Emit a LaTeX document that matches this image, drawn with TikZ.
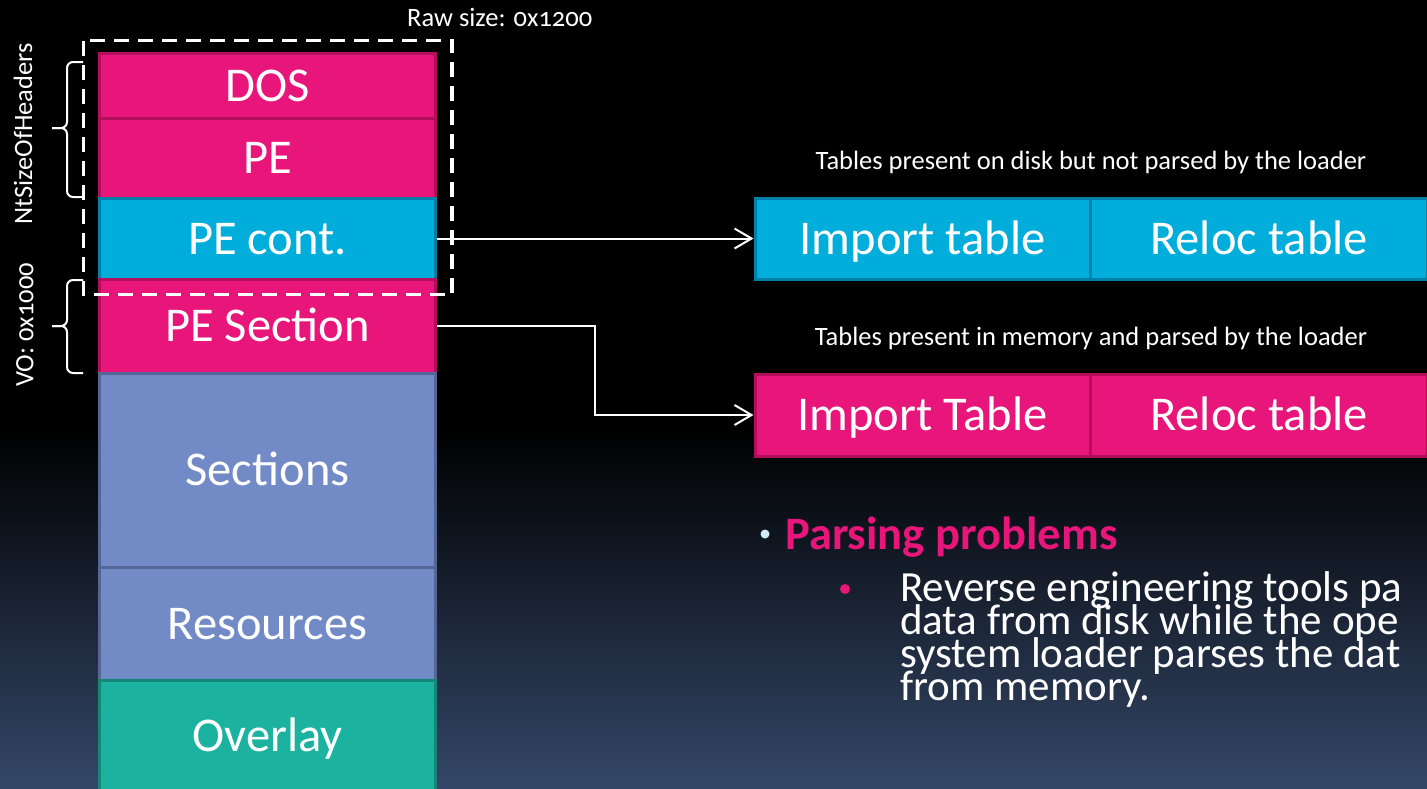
\documentclass[tikz,border=0pt]{standalone}
\usepackage{fontspec}
\setmainfont{Carlito}
\newfontfamily\oldnum[Numbers=OldStyle]{Carlito}
\usetikzlibrary{arrows.meta}
\definecolor{pinkF}{RGB}{232,22,123}
\definecolor{pinkD}{RGB}{178,14,92}
\definecolor{cyanF}{RGB}{0,173,219}
\definecolor{cyanD}{RGB}{0,128,168}
\definecolor{periF}{RGB}{114,138,198}
\definecolor{periD}{RGB}{84,102,150}
\definecolor{tealF}{RGB}{27,179,159}
\definecolor{tealD}{RGB}{20,135,118}
\definecolor{bgB}{RGB}{52,71,104}
\definecolor{bulB}{RGB}{210,235,250}
\tikzset{
  blk/.style={draw, line width=3pt, inner sep=0pt, minimum width=336pt, text=white,
    font=\fontsize{48.5}{50}\selectfont, text height=31pt, text depth=0pt},
  rblk/.style={blk, minimum width=335pt},
  small/.style={text=white, inner sep=0pt, font=\fontsize{26.5}{28}\selectfont},
  conn/.style={draw=white, line width=2pt, -{Straight Barb[length=17pt,width=20pt]}},
  brc/.style={draw=white, line width=2pt, rounded corners=6pt},
  dashrect/.style={draw=white, line width=3.5pt, dash pattern=on 15pt off 9pt},
  bodytxt/.style={text=white, inner sep=0pt, anchor=base west, text height=22pt, text depth=6pt,
    font=\fontsize{43}{33}\selectfont}
}
\begin{document}
\begin{tikzpicture}[x=1pt,y=-1pt]
\useasboundingbox (0,0) rectangle (1427,788);
\clip (0,0) rectangle (1427,788);
% background
\fill[black] (0,0) rectangle (1427,788);
\shade[top color=black, bottom color=bgB] (0,430) rectangle (1427,788);

% left column
\node[blk, fill=pinkF, draw=pinkD, minimum height=65pt] (dos) at (267.5,85.5) {DOS};
\node[blk, fill=pinkF, draw=pinkD, minimum height=80pt] (pe) at (267.5,158) {PE};
\node[blk, fill=cyanF, draw=cyanD, minimum height=81pt] (pecont) at (267.5,238.5) {PE cont.};
\node[blk, fill=pinkF, draw=pinkD, minimum height=94pt] (pesec) at (267.5,326) {PE Section};
\node[blk, fill=periF, draw=periD, minimum height=194pt] (sections) at (267.5,470) {Sections};
\node[blk, fill=periF, draw=periD, minimum height=113pt] (resources) at (267.5,623.5) {Resources};
\node[blk, fill=tealF, draw=tealD, minimum height=111pt] (overlay) at (267.5,735.5) {Overlay};

% raw size box
\draw[dashrect] (83.5,40.5) rectangle (452,294.5);
\node[small, anchor=base west] (rawlbl) at (407,26) {Raw size: {\oldnum 0x1200}};

% braces
\draw[brc] (83,62) -- (67,62) -- (67,128) -- (52,128);
\draw[brc] (52,128) -- (67,128) -- (67,197) -- (83,197);
\draw[brc] (83,280) -- (67,280) -- (67,326) -- (52,326);
\draw[brc] (52,326) -- (67,326) -- (67,373) -- (83,373);
\node[small, rotate=90] (ntlbl) at (23,134) {NtSizeOfHeaders};
\node[small, rotate=90] (volbl) at (25,325) {VO: {\oldnum 0x1000}};

% right tables
\node[small, anchor=base] (disklbl) at (1091,169.5) {Tables present on disk but not parsed by the loader};
\node[rblk, fill=cyanF, draw=cyanD, minimum height=81pt] (imp1) at (922.5,238.5) {Import table};
\node[rblk, fill=cyanF, draw=cyanD, minimum height=81pt, minimum width=337pt] (rel1) at (1259,238.5) {Reloc table};
\node[small, anchor=base] (memlbl) at (1091,345.5) {Tables present in memory and parsed by the loader};
\node[rblk, fill=pinkF, draw=pinkD, minimum height=82pt] (imp2) at (922.5,415) {Import Table};
\node[rblk, fill=pinkF, draw=pinkD, minimum height=82pt, minimum width=337pt] (rel2) at (1259,415) {Reloc table};

% connectors
\draw[conn] (pecont.east) -- (imp1.west);
\draw[conn] (pesec.east) -- ++(158,0) |- (imp2.west);

% bullets
\fill[bulB] (765,534) circle (4.5pt);
\node[inner sep=0pt, anchor=base west, text=pinkF, font=\fontsize{46.5}{48}\selectfont\bfseries] (parsing) at (785,549) {Parsing problems};
\fill[pinkF] (845,589) circle (5pt);
\node[bodytxt] (l1) at (900,601) {Reverse engineering tools pa};
\node[bodytxt] (l2) at (900,634) {data from disk while the ope};
\node[bodytxt] (l3) at (900,667) {system loader parses the dat};
\node[bodytxt] (l4) at (900,700) {from memory.};
\end{tikzpicture}
\end{document}
